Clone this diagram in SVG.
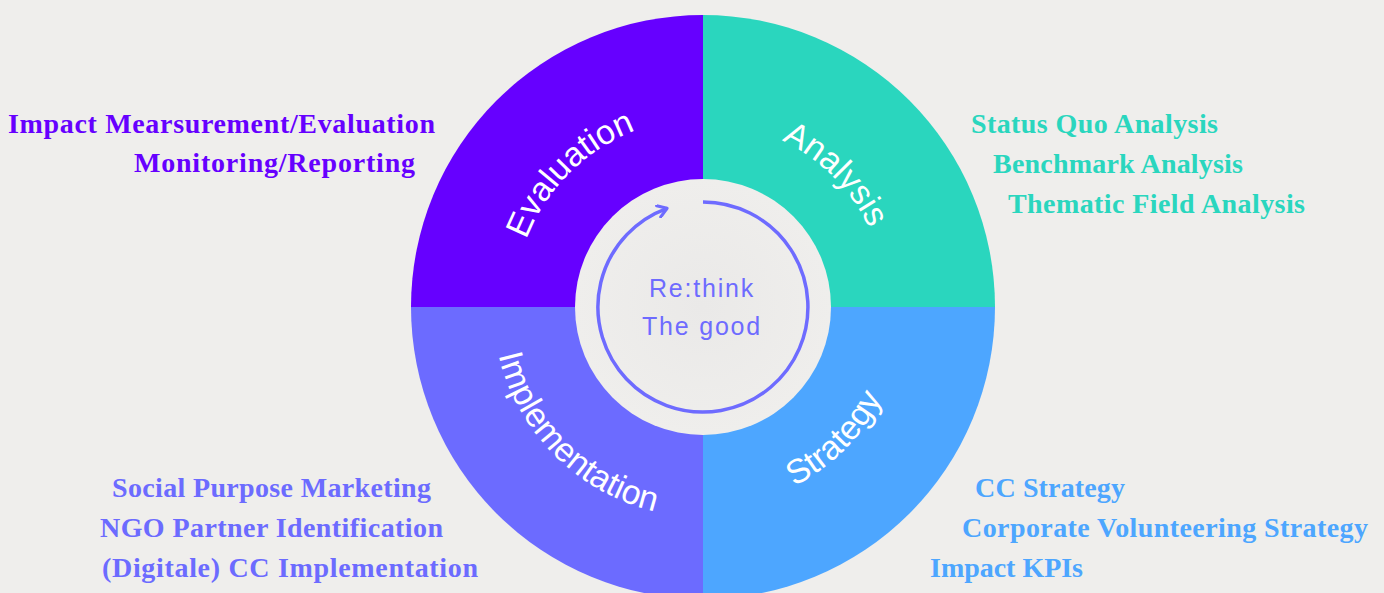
<svg xmlns="http://www.w3.org/2000/svg" xmlns:xlink="http://www.w3.org/1999/xlink" width="1384" height="593" viewBox="0 0 1384 593">
<style>
.side{font-family:"Liberation Serif","Times New Roman",serif;font-weight:700;font-size:28px}
.q{font-family:"Liberation Sans",Arial,sans-serif;font-size:34px;fill:#ffffff}
.c{font-family:"Liberation Sans",Arial,sans-serif;font-size:25px;fill:#6E6BFF;letter-spacing:1.8px}
.ev{fill:#6600FF}.an{fill:#2AD6BE}.im{fill:#6C6BFF}.st{fill:#4DA6FF}
</style>
<defs>
<path id="pEv" d="M 514 307 A 189 189 0 0 1 703 118"/>
<path id="pAn" d="M 703 123 A 184 184 0 0 1 887 307"/>
<path id="pIm" d="M 493 307 A 210 210 0 0 0 703 517"/>
<path id="pSt" d="M 703 508 A 201 201 0 0 0 904 307"/>
<marker id="arr" viewBox="0 0 14 14" refX="11" refY="7" markerWidth="14" markerHeight="14" markerUnits="userSpaceOnUse" orient="auto">
<path d="M 2 1 L 11 7 L 2 13" fill="none" stroke="#6E6BFF" stroke-width="3" stroke-linecap="round" stroke-linejoin="round"/>
</marker>
<radialGradient id="gc" cx="0.5" cy="0.5" r="0.5">
<stop offset="0" stop-color="#EAE9E8"/>
<stop offset="1" stop-color="#EFEEEC"/>
</radialGradient>
</defs>
<rect width="1384" height="593" fill="#EFEEEC"/>
<g id="wheel">
<path id="evaluation" d="M 703 307 L 411 307 A 292 292 0 0 1 703 15 Z" fill="#6600FF"/>
<path id="analysis" d="M 703 307 L 703 15 A 292 292 0 0 1 995 307 Z" fill="#2AD6BE"/>
<path id="strategy" d="M 703 307 L 995 307 A 292 292 0 0 1 703 599 Z" fill="#4DA6FF"/>
<path id="implementation" d="M 703 307 L 703 599 A 292 292 0 0 1 411 307 Z" fill="#6C6BFF"/>
</g>
<g id="quadrant-labels">
<text class="q"><textPath xlink:href="#pEv" href="#pEv" startOffset="50%" text-anchor="middle">Evaluation</textPath></text>
<text class="q"><textPath xlink:href="#pAn" href="#pAn" startOffset="50%" text-anchor="middle">Analysis</textPath></text>
<text class="q"><textPath xlink:href="#pIm" href="#pIm" startOffset="50%" text-anchor="middle">Implementation</textPath></text>
<text class="q"><textPath xlink:href="#pSt" href="#pSt" startOffset="50%" text-anchor="middle">Strategy</textPath></text>
</g>
<g id="center">
<circle cx="703" cy="307" r="128" fill="url(#gc)"/>
<text class="c" x="702" y="297" text-anchor="middle">Re:think</text>
<text class="c" x="702" y="335" text-anchor="middle">The good</text>
</g>
<g id="connectors">
<path d="M 703 202 A 105 105 0 1 1 667.1 208.3" fill="none" stroke="#6E6BFF" stroke-width="3.5" marker-end="url(#arr)"/>
</g>
<g id="evaluation-items">
<text class="side ev" x="8" y="133" textLength="427" lengthAdjust="spacing">Impact Mearsurement/Evaluation</text>
<text class="side ev" x="134" y="172" textLength="281" lengthAdjust="spacing">Monitoring/Reporting</text>
</g>
<g id="analysis-items">
<text class="side an" x="971" y="133" textLength="247" lengthAdjust="spacing">Status Quo Analysis</text>
<text class="side an" x="993" y="173" textLength="250" lengthAdjust="spacing">Benchmark Analysis</text>
<text class="side an" x="1008" y="212.5" textLength="297" lengthAdjust="spacing">Thematic Field Analysis</text>
</g>
<g id="implementation-items">
<text class="side im" x="112" y="497" textLength="319" lengthAdjust="spacing">Social Purpose Marketing</text>
<text class="side im" x="100" y="537" textLength="343" lengthAdjust="spacing">NGO Partner Identification</text>
<text class="side im" x="102" y="577" textLength="376" lengthAdjust="spacing">(Digitale) CC Implementation</text>
</g>
<g id="strategy-items">
<text class="side st" x="975" y="497" textLength="150" lengthAdjust="spacing">CC Strategy</text>
<text class="side st" x="962" y="537" textLength="406" lengthAdjust="spacing">Corporate Volunteering Strategy</text>
<text class="side st" x="930" y="577" textLength="153" lengthAdjust="spacing">Impact KPIs</text>
</g>
</svg>
